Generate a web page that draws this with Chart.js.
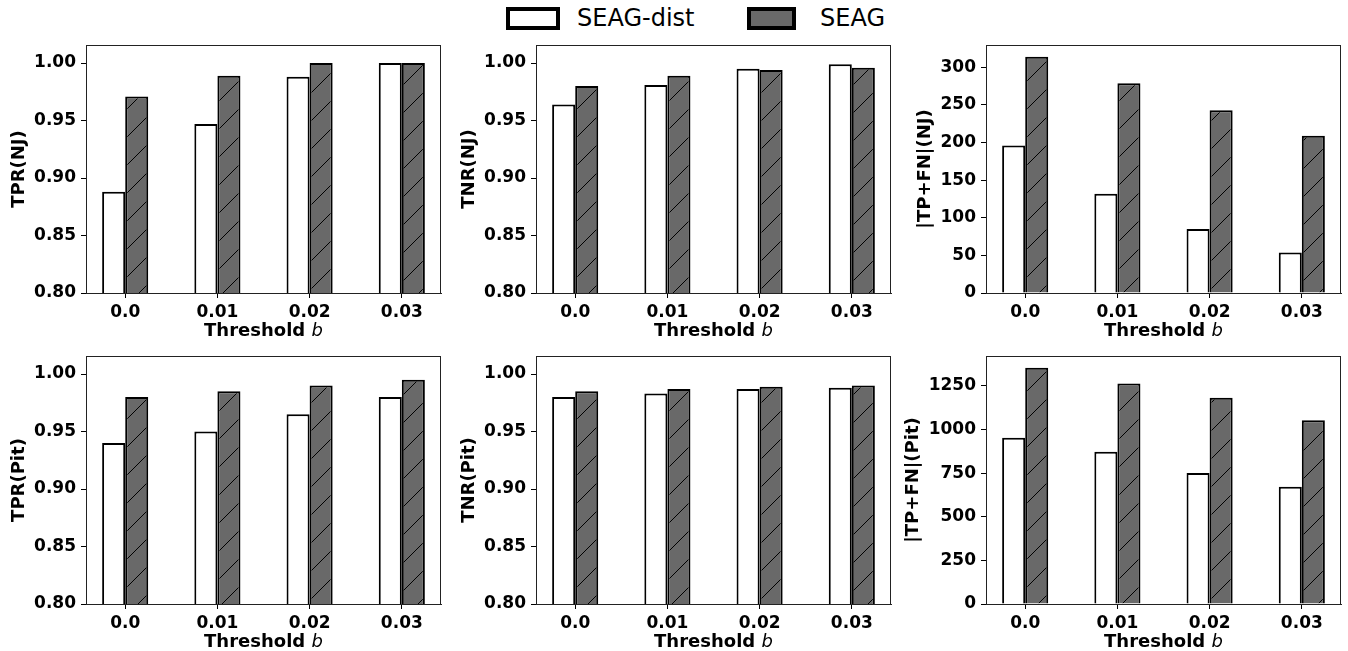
<!DOCTYPE html>
<html>
<head>
<meta charset="utf-8">
<script src="https://cdn.jsdelivr.net/npm/chart.js@4.4.1/dist/chart.umd.min.js"></script>
<style>
  html, body { margin: 0; padding: 0; background: #fff; }
  body { width: 1348px; height: 651px; position: relative; overflow: hidden; font-family: 'DejaVu Sans', sans-serif; }
  canvas { position: absolute; }
  .lg-box { position: absolute; box-sizing: border-box; border: 4px solid #000; }
  .lg-txt { position: absolute; font-size: 24px; line-height: 24px; color: #000; white-space: nowrap; }
</style>
</head>
<body>
<div class="lg-box" style="left:506px;top:7px;width:54px;height:23px;background:#fff;"></div>
<div class="lg-txt" style="left:577px;top:6px;">SEAG-dist</div>
<div class="lg-box" style="left:747px;top:7px;width:49px;height:23px;background:#696969;"></div>
<div class="lg-txt" style="left:820px;top:6px;">SEAG</div>

<canvas id="c0" width="450" height="300" style="left:0px;top:40px;"></canvas>
<canvas id="c1" width="450" height="300" style="left:450px;top:40px;"></canvas>
<canvas id="c2" width="448" height="300" style="left:900px;top:40px;"></canvas>
<canvas id="c3" width="450" height="301" style="left:0px;top:350px;"></canvas>
<canvas id="c4" width="450" height="301" style="left:450px;top:350px;"></canvas>
<canvas id="c5" width="448" height="301" style="left:900px;top:350px;"></canvas>

<script>
// ---------------- data ----------------
const categories = ['0.0', '0.01', '0.02', '0.03'];
const seriesNames = ['SEAG-dist', 'SEAG'];

const tprNJ_dist = [0.888, 0.947, 0.988, 1.000];
const tprNJ_seag = [0.971, 0.989, 1.000, 1.000];
const tnrNJ_dist = [0.964, 0.981, 0.995, 0.999];
const tnrNJ_seag = [0.980, 0.989, 0.994, 0.996];
const cntNJ_dist = [196, 132, 85, 54];
const cntNJ_seag = [314, 279, 243, 209];

const tprPit_dist = [0.940, 0.950, 0.965, 0.980];
const tprPit_seag = [0.980, 0.985, 0.990, 0.995];
const tnrPit_dist = [0.980, 0.983, 0.987, 0.988];
const tnrPit_seag = [0.985, 0.987, 0.989, 0.990];
const cntPit_dist = [952, 872, 750, 672];
const cntPit_seag = [1353, 1263, 1181, 1052];

const rateTicks = [0.80, 0.85, 0.90, 0.95, 1.00];
const njTicks = [0, 50, 100, 150, 200, 250, 300];
const pitTicks = [0, 250, 500, 750, 1000, 1250];

const xTitle = 'Threshold';
const xTitleVar = 'b';

// ---------------- styling helpers ----------------
const FONT = "'DejaVu Sans'";
const GRAY = '#696969';
const TICK_SIZE = 17;

function makeHatch() {
  const s = 28;
  const c = document.createElement('canvas');
  c.width = s; c.height = s;
  const g = c.getContext('2d');
  g.fillStyle = GRAY;
  g.fillRect(0, 0, s, s);
  g.strokeStyle = '#000';
  g.lineWidth = 1;
  g.beginPath();
  g.moveTo(0, s); g.lineTo(s, 0);
  g.moveTo(-2, 2); g.lineTo(2, -2);
  g.moveTo(s - 2, s + 2); g.lineTo(s + 2, s - 2);
  g.stroke();
  return g.createPattern(c, 'repeat');
}

const framePlugin = {
  id: 'frameAndTitles',
  afterDraw(chart, args, opts) {
    const {ctx, chartArea: a} = chart;
    ctx.save();
    // full box (four spines)
    ctx.strokeStyle = '#222';
    ctx.lineWidth = 1;
    ctx.strokeRect(Math.round(a.left) + 0.5, Math.round(a.top) + 0.5,
                   Math.round(a.right - a.left) - 1, Math.round(a.bottom - a.top));
    // x title: bold "Threshold " + italic "b"
    const fs = 18;
    ctx.fillStyle = '#000';
    ctx.textBaseline = 'middle';
    const boldFont = 'bold ' + fs + 'px ' + FONT;
    const itFont = 'italic ' + fs + 'px ' + FONT;
    ctx.font = boldFont;
    const w1 = ctx.measureText(xTitle + ' ').width;
    ctx.font = itFont;
    const w2 = ctx.measureText(xTitleVar).width;
    const cx = (a.left + a.right) / 2;
    const ty = a.bottom + 38;
    let x0 = cx - (w1 + w2) / 2;
    ctx.textAlign = 'left';
    ctx.font = boldFont;
    ctx.fillText(xTitle + ' ', x0, ty);
    ctx.font = itFont;
    ctx.fillText(xTitleVar, x0 + w1, ty);
    // y title, rotated, left of tick labels
    const yScale = chart.scales.y;
    ctx.font = 'bold ' + TICK_SIZE + 'px ' + FONT;
    let maxW = 0;
    yScale.ticks.forEach(t => {
      const w = ctx.measureText(opts.fmt(t.value)).width;
      if (w > maxW) maxW = w;
    });
    const yx = a.left - 10 - maxW - 6 - fs / 2;
    const yy = (a.top + a.bottom) / 2;
    ctx.translate(yx, yy);
    ctx.rotate(-Math.PI / 2);
    ctx.font = boldFont;
    ctx.textAlign = 'center';
    ctx.fillText(opts.yTitle, 0, 0);
    ctx.restore();
  }
};

function toPoints(arr) {
  return categories.map((c, i) => ({x: i, y: arr[i]}));
}

function makeChart(id, yTitle, dist, seag, ticks, yMin, yMax, fmt, padTop, padRight) {
  const hatch = makeHatch();
  return new Chart(document.getElementById(id), {
    type: 'bar',
    data: {
      datasets: [
        {
          label: seriesNames[0],
          data: toPoints(dist),
          backgroundColor: '#ffffff',
          borderColor: '#000000',
          borderWidth: 2,
          borderSkipped: 'start',
          categoryPercentage: 0.5,
          barPercentage: 1.0
        },
        {
          label: seriesNames[1],
          data: toPoints(seag),
          backgroundColor: hatch,
          borderColor: '#000000',
          borderWidth: 2,
          borderSkipped: 'start',
          categoryPercentage: 0.5,
          barPercentage: 1.0
        }
      ]
    },
    options: {
      responsive: false,
      animation: false,
      devicePixelRatio: 1,
      layout: { padding: { top: padTop, right: padRight, left: 0, bottom: 0 } },
      plugins: {
        legend: { display: false },
        tooltip: { enabled: false },
        frameAndTitles: { yTitle: yTitle, fmt: fmt }
      },
      scales: {
        x: {
          type: 'linear',
          min: -0.425,
          max: 3.425,
          offset: false,
          afterBuildTicks: s => { s.ticks = categories.map((c, i) => ({value: i})); },
          afterFit: s => { s.height = 47; s.paddingLeft = 0; s.paddingRight = 0; },
          ticks: {
            autoSkip: false,
            maxRotation: 0,
            padding: 4,
            color: '#000',
            font: { family: FONT, size: TICK_SIZE, weight: 'bold' },
            callback: v => categories[v]
          },
          grid: { display: true, drawOnChartArea: false, drawTicks: true, tickLength: 5, color: '#000', offset: false },
          border: { display: true, color: '#222', width: 1 }
        },
        y: {
          type: 'linear',
          min: yMin,
          max: yMax,
          beginAtZero: false,
          afterBuildTicks: s => { s.ticks = ticks.map(v => ({value: v})); },
          afterFit: s => { s.width = 86; s.paddingTop = 0; s.paddingBottom = 0; },
          ticks: {
            padding: 5,
            color: '#000',
            font: { family: FONT, size: TICK_SIZE, weight: 'bold' },
            callback: v => fmt(v)
          },
          grid: { display: true, drawOnChartArea: false, drawTicks: true, tickLength: 5, color: '#000' },
          border: { display: true, color: '#222', width: 1 }
        }
      }
    },
    plugins: [framePlugin]
  });
}

const fmtRate = v => v.toFixed(2);
const fmtInt = v => String(Math.round(v));

makeChart('c0', 'TPR(NJ)', tprNJ_dist, tprNJ_seag, rateTicks, 0.8, 1.0157, fmtRate, 5, 9);
makeChart('c1', 'TNR(NJ)', tnrNJ_dist, tnrNJ_seag, rateTicks, 0.8, 1.0157, fmtRate, 5, 9);
makeChart('c2', '|TP+FN|(NJ)', cntNJ_dist, cntNJ_seag, njTicks, 0, 329.7, fmtInt, 5, 7);
makeChart('c3', 'TPR(Pit)', tprPit_dist, tprPit_seag, rateTicks, 0.8, 1.0157, fmtRate, 6, 9);
makeChart('c4', 'TNR(Pit)', tnrPit_dist, tnrPit_seag, rateTicks, 0.8, 1.0157, fmtRate, 6, 9);
makeChart('c5', '|TP+FN|(Pit)', cntPit_dist, cntPit_seag, pitTicks, 0, 1420.7, fmtInt, 6, 7);
</script>
</body>
</html>
